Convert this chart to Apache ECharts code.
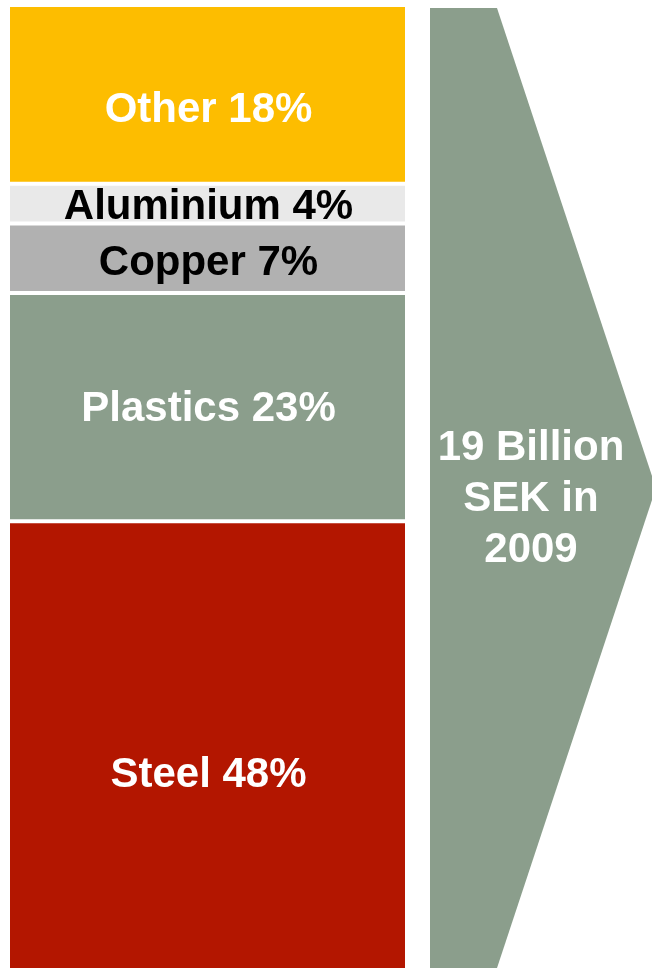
<!DOCTYPE html>
<html>
<head>
<meta charset="utf-8">
<script src="https://cdn.jsdelivr.net/npm/echarts@6/dist/echarts.min.js"></script>
<style>
  html, body { margin: 0; padding: 0; background: #ffffff; }
  #chart { width: 652px; height: 968px; }
</style>
</head>
<body>
<div id="chart"></div>
<script>
// Material shares of the total value, stacked bottom to top
const materials = ['Steel', 'Plastics', 'Copper', 'Aluminium', 'Other'];
const shares = [48, 23, 7, 4, 18];
const totalLines = ['19 Billion', 'SEK in', '2009'];

const fills = {
  Steel: '#b31600',
  Plastics: '#8b9e8c',
  Copper: '#b1b1b1',
  Aluminium: '#e9e9e9',
  Other: '#fdbd00'
};
const inkColors = {
  Steel: '#ffffff',
  Plastics: '#ffffff',
  Copper: '#000000',
  Aluminium: '#000000',
  Other: '#ffffff'
};
// vertical nudge of each segment label
const labelShift = { Steel: 16, Plastics: 2, Copper: 5, Aluminium: 4, Other: 16 };

const fontStack = '"Liberation Sans", Arial, Helvetica, sans-serif';

const series = materials.map((name, i) => ({
  name: name,
  type: 'bar',
  stack: 'total',
  barWidth: '100%',
  data: [shares[i]],
  itemStyle: {
    color: fills[name],
    borderColor: '#ffffff',
    borderWidth: 2
  },
  label: {
    show: true,
    position: 'inside',
    offset: [1, labelShift[name]],
    formatter: '{a} {c}%',
    color: inkColors[name],
    fontSize: 42,
    fontWeight: 'bold',
    fontFamily: fontStack
  },
  emphasis: { disabled: true }
}));

const chart = echarts.init(document.getElementById('chart'), null, { renderer: 'canvas' });
chart.setOption({
  animation: false,
  backgroundColor: '#ffffff',
  // the steel block runs on past the bottom edge of the canvas
  grid: { left: 8, width: 399, top: 5, height: 993, containLabel: false, outerBoundsMode: 'none' },
  xAxis: {
    type: 'category',
    data: ['2009'],
    show: false,
    boundaryGap: true
  },
  yAxis: {
    type: 'value',
    min: 0,
    max: 100,
    show: false
  },
  series: series,
  graphic: [
    {
      type: 'polygon',
      shape: {
        points: [[430, 8], [497, 8], [656, 488], [497, 968], [430, 968]]
      },
      style: { fill: '#8b9e8c' },
      silent: true
    },
    {
      type: 'text',
      x: 531,
      y: 499,
      style: {
        text: totalLines.join('\n'),
        fill: '#ffffff',
        font: 'bold 42px ' + fontStack,
        align: 'center',
        verticalAlign: 'middle',
        lineHeight: 51
      },
      silent: true
    }
  ]
});
</script>
</body>
</html>
